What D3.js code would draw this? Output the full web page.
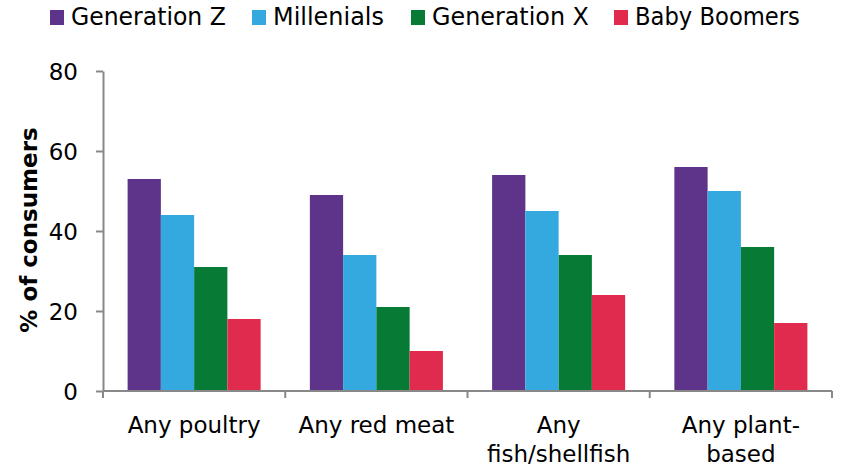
<!DOCTYPE html>
<html>
<head>
<meta charset="utf-8">
<script src="https://cdn.jsdelivr.net/npm/d3@7"></script>
<style>
  body { margin: 0; background: #fff; }
  text { font-family: "DejaVu Sans", Verdana, sans-serif; fill: #000; }
</style>
</head>
<body>
<div id="chart"></div>
<script>
// chart data
const categories = [["Any poultry"], ["Any red meat"], ["Any", "fish/shellfish"], ["Any plant-", "based"]];
const seriesNames = ["Generation Z", "Millenials", "Generation X", "Baby Boomers"];
const seriesColors = ["#5E348B", "#33A9DF", "#077A35", "#E02A4E"];
const genZ = [53, 49, 54, 56];
const millenials = [44, 34, 45, 50];
const genX = [31, 21, 34, 36];
const boomers = [18, 10, 24, 17];
const yTicks = [0, 20, 40, 60, 80];

const seriesValues = [genZ, millenials, genX, boomers];

const W = 842, H = 468;
const margin = { top: 71, right: 10, bottom: 77, left: 103 },
    width = 832 - margin.left,
    height = H - margin.top - margin.bottom;

const svg = d3.select("#chart")
    .append("svg")
    .attr("width", W)
    .attr("height", H)
    .append("g")
    .attr("transform", `translate(${margin.left},${margin.top})`);

const x = d3.scaleBand()
    .domain(d3.range(categories.length))
    .range([0, width])
    .paddingInner(0)
    .paddingOuter(0);

const xInner = d3.scaleBand()
    .domain(d3.range(seriesNames.length))
    .range([0, x.bandwidth()])
    .paddingOuter(0.74)
    .paddingInner(0);

const y = d3.scaleLinear()
    .domain([0, 80])
    .range([height, 0]);

// bars
seriesValues.forEach((vals, s) => {
    svg.selectAll(".bar" + s)
        .data(vals)
        .enter().append("rect")
        .attr("class", "bar" + s)
        .attr("fill", seriesColors[s])
        .attr("x", (d, i) => x(i) + xInner(s))
        .attr("width", xInner.bandwidth())
        .attr("y", d => y(d))
        .attr("height", d => height - y(d));
});

// y axis
const yAxis = svg.append("g")
    .call(d3.axisLeft(y).tickValues(yTicks).tickSize(7).tickPadding(18).tickSizeOuter(0));
yAxis.select(".domain").attr("stroke", "#888").attr("stroke-width", 2);
yAxis.selectAll(".tick line").attr("stroke", "#888").attr("stroke-width", 2);
yAxis.selectAll(".tick text")
    .attr("font-size", "23px")
    .attr("font-family", "DejaVu Sans, sans-serif")
    .attr("dy", "0.35em");

// x axis line and ticks
const xg = svg.append("g").attr("transform", `translate(0,${height})`);
xg.append("line")
    .attr("x1", 0).attr("x2", width)
    .attr("stroke", "#888").attr("stroke-width", 2);
xg.selectAll(".xtick")
    .data(d3.range(categories.length + 1))
    .enter().append("line")
    .attr("x1", d => d * x.step()).attr("x2", d => d * x.step())
    .attr("y1", 0).attr("y2", 7)
    .attr("stroke", "#888").attr("stroke-width", 2);

// category labels
xg.selectAll(".xlabel")
    .data(categories)
    .enter().append("text")
    .attr("text-anchor", "middle")
    .attr("font-size", "23px")
    .attr("transform", (d, i) => `translate(${x(i) + x.bandwidth() / 2},42)`)
    .selectAll("tspan")
    .data(d => d)
    .enter().append("tspan")
    .attr("x", 0)
    .attr("y", (d, j) => j * 29)
    .text(d => d);

// y axis title
svg.append("text")
    .attr("transform", `translate(-66,${height / 2 - 1}) rotate(-90)`)
    .attr("text-anchor", "middle")
    .attr("font-size", "23px")
    .attr("font-weight", "bold")
    .text("% of consumers");

// legend: condensed text, fitted to the widths seen in the chart
const legendX = [50, 252, 411, 614];
const legendW = [155, 111, 157, 165];
const legend = d3.select("#chart svg").append("g");
seriesNames.forEach((name, s) => {
    legend.append("rect")
        .attr("x", legendX[s]).attr("y", 10)
        .attr("width", 14).attr("height", 15)
        .attr("fill", seriesColors[s]);
    const t = legend.append("text")
        .attr("font-size", "25px")
        .attr("font-family", "DejaVu Sans Condensed, sans-serif")
        .text(name);
    const len = t.node().getComputedTextLength();
    t.attr("transform", `translate(${legendX[s] + 21},25) scale(${legendW[s] / len},1)`);
});
</script>
</body>
</html>
